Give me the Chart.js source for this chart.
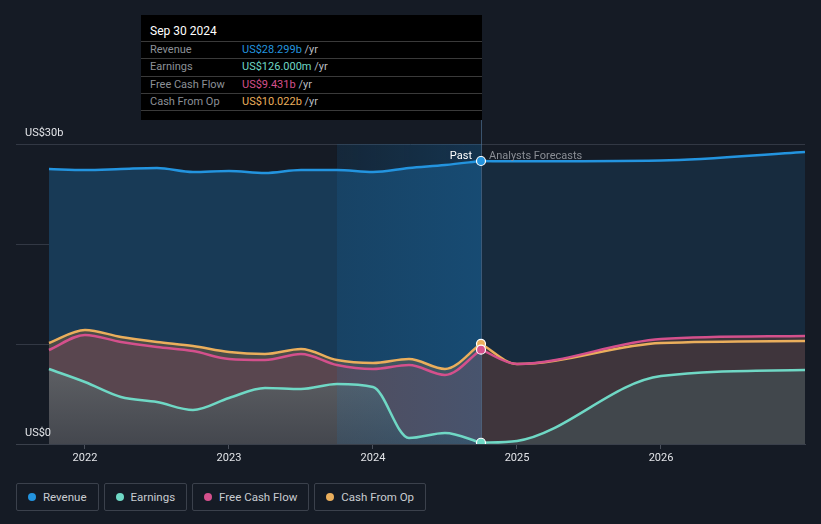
<!DOCTYPE html>
<html>
<head>
<meta charset="utf-8">
<script src="https://cdn.jsdelivr.net/npm/chart.js@4.4.1/dist/chart.umd.min.js"></script>
<style>
body{margin:0;background:#151b25;font-family:Roboto,"Noto Sans",sans-serif;}
#wrap{position:relative;width:821px;height:524px;overflow:hidden;}
#box{position:absolute;left:0;top:0;width:821px;height:470px;}
.tip{position:absolute;left:141px;top:15px;width:341px;height:105px;background:#000;font-size:11px;}
.tip .t{padding:4px 0 0 9px;height:22px;line-height:24px;color:#fff;font-size:12px;}
.tip .r{border-top:1px solid #3a3a3a;height:16.3px;line-height:16.3px;padding-left:9px;color:#8c9097;white-space:nowrap;}
.tip .r:last-child{border-bottom:1px solid #3a3a3a;}
.tip .r span.l{display:inline-block;width:92px;}
.tip .r span.u{color:#b9bcc1;}
.legend{position:absolute;left:16px;top:483px;display:flex;gap:5px;}
.legend div{height:26px;border:1px solid #3b414c;border-radius:2px;color:#c9ccd1;font-size:11.5px;line-height:26px;padding:0 11px 0 26px;position:relative;}
.legend div i{position:absolute;left:11px;top:9px;width:8px;height:8px;border-radius:50%;}
</style>
</head>
<body>
<div id="wrap">
  <div id="box"><canvas id="myChart"></canvas></div>
  <div class="tip">
    <div class="t">Sep 30 2024</div>
    <div class="r"><span class="l">Revenue</span><span style="color:#2394df">US$28.299b</span> <span class="u">/yr</span></div>
    <div class="r"><span class="l">Earnings</span><span style="color:#6fd8c5">US$126.000m</span> <span class="u">/yr</span></div>
    <div class="r"><span class="l">Free Cash Flow</span><span style="color:#d4508c">US$9.431b</span> <span class="u">/yr</span></div>
    <div class="r"><span class="l">Cash From Op</span><span style="color:#eaae5c">US$10.022b</span> <span class="u">/yr</span></div>
  </div>
  <div class="legend">
    <div><i style="background:#2394df"></i>Revenue</div>
    <div><i style="background:#6fd8c5"></i>Earnings</div>
    <div><i style="background:#d4508c"></i>Free Cash Flow</div>
    <div><i style="background:#eaae5c"></i>Cash From Op</div>
  </div>
</div>
<script>
// quarterly history (decimal years) and annual analyst forecasts, US$ billions
const pastDates = [2021.75, 2022.0, 2022.25, 2022.5, 2022.75, 2023.0, 2023.25, 2023.5, 2023.75, 2024.0, 2024.25, 2024.5, 2024.75];
const revenuePast = [27.5, 27.4, 27.5, 27.6, 27.2, 27.3, 27.1, 27.4, 27.4, 27.2, 27.6, 27.9, 28.299];
const earningsPast = [7.5, 6.2, 4.7, 4.2, 3.4, 4.6, 5.6, 5.5, 6.0, 5.7, 0.6, 1.1, 0.126];
const fcfPast = [9.4, 10.9, 10.2, 9.7, 9.3, 8.5, 8.4, 9.0, 7.9, 7.5, 7.9, 6.9, 9.431];
const cfoPast = [10.1, 11.4, 10.7, 10.2, 9.8, 9.2, 9.0, 9.5, 8.4, 8.1, 8.5, 7.5, 10.022];

const foreDates = [2024.75, 2025.0, 2026.0, 2027.0];
const revenueFore = [28.299, 28.27, 28.35, 29.2];
const earningsFore = [0.126, 0.3, 6.8, 7.4];
const fcfFore = [9.431, 8.0, 10.5, 10.8];
const cfoFore = [10.022, 8.0, 10.1, 10.3];

const tickYears = [2022, 2023, 2024, 2025, 2026];
const yTicks = [0, 10, 20, 30];
const yLabels = {0: "US$0", 30: "US$30b"};
const bandStart = 2023.75;
const pastEnd = 2024.75;

const pts = (xs, ys) => xs.map((x, i) => ({x: x, y: ys[i]}));

const earningsFill = (ctx) => {
    const a = ctx.chart.chartArea;
    if (!a) return "#55585d";
    const g = ctx.chart.ctx.createLinearGradient(0, a.top + 210, 0, a.bottom);
    g.addColorStop(0, "#626468");
    g.addColorStop(1, "#44474e");
    return g;
};

const line = (label, data, color, fill, order, marker) => ({
    label: label,
    data: data,
    borderColor: color,
    backgroundColor: fill,
    borderWidth: 2.5,
    fill: "origin",
    order: order,
    cubicInterpolationMode: "monotone",
    pointRadius: (c) => (marker && c.dataIndex === data.length - 1 ? 4.5 : 0),
    pointBackgroundColor: color,
    pointBorderColor: "#ffffff",
    pointBorderWidth: 1.2,
    pointHoverRadius: 0,
});

const overlay = {
    id: "overlay",
    beforeDatasetsDraw(chart) {
        const {ctx, chartArea: a, scales: {x}} = chart;
        const x0 = x.getPixelForValue(bandStart);
        const x1 = x.getPixelForValue(pastEnd);
        const g = ctx.createLinearGradient(x0, 0, x1, 0);
        g.addColorStop(0, "rgba(20,125,200,0.13)");
        g.addColorStop(1, "rgba(20,125,200,0.25)");
        ctx.save();
        ctx.fillStyle = g;
        ctx.fillRect(x0, a.top, x1 - x0, a.bottom - a.top);
        ctx.strokeStyle = "rgba(90,130,170,0.55)";
        ctx.lineWidth = 1;
        ctx.beginPath();
        ctx.moveTo(Math.round(x1) + 0.5, 120);
        ctx.lineTo(Math.round(x1) + 0.5, a.bottom);
        ctx.stroke();
        ctx.restore();
    },
    afterDraw(chart) {
        const {ctx, scales: {x, y}} = chart;
        ctx.save();
        ctx.font = "11px Roboto, sans-serif";
        ctx.textBaseline = "middle";
        ctx.fillStyle = "#e2e4e8";
        ctx.textAlign = "left";
        Object.keys(yLabels).forEach((v) => {
            ctx.fillText(yLabels[v], 25, y.getPixelForValue(+v) - 11);
        });
        const px = x.getPixelForValue(pastEnd);
        const ty = y.getPixelForValue(30) + 12;
        ctx.textAlign = "right";
        ctx.fillStyle = "#ffffff";
        ctx.fillText("Past", px - 9, ty);
        ctx.textAlign = "left";
        ctx.fillStyle = "#8a8e95";
        ctx.fillText("Analysts Forecasts", px + 8, ty);
        ctx.restore();
    },
};

new Chart(document.getElementById("myChart"), {
    type: "line",
    data: {
        datasets: [
            line("Earnings", pts(pastDates, earningsPast), "#6fd8c5", earningsFill, 1, true),
            line("Free Cash Flow", pts(pastDates, fcfPast), "#d4508c", "#59464f", 2, true),
            line("Cash From Op", pts(pastDates, cfoPast), "#eaae5c", "#4a4c48", 3, true),
            line("Revenue", pts(pastDates, revenuePast), "#2394df", "#183a56", 4, true),
            line("Earnings forecast", pts(foreDates, earningsFore), "#6fd8c5", "#41474c", 1, false),
            line("Free Cash Flow forecast", pts(foreDates, fcfFore), "#d4508c", "#3f353c", 2, false),
            line("Cash From Op forecast", pts(foreDates, cfoFore), "#eaae5c", "#3f3a3a", 3, false),
            line("Revenue forecast", pts(foreDates, revenueFore), "#2394df", "#172b3e", 4, false),
        ],
    },
    options: {
        responsive: true,
        maintainAspectRatio: false,
        animation: false,
        layout: {padding: {left: 16, right: 16, top: 144, bottom: 0}},
        plugins: {
            legend: {display: false},
            tooltip: {enabled: false},
            filler: {drawTime: "beforeDatasetsDraw"},
        },
        scales: {
            x: {
                type: "linear",
                min: 2021.521,
                max: 2027.0,
                afterBuildTicks: (s) => { s.ticks = tickYears.map((v) => ({value: v})); },
                afterFit: (s) => { s.height = 26; },
                ticks: {
                    color: "#e2e4e8",
                    font: {family: "Roboto", size: 11},
                    padding: 3,
                    maxRotation: 0,
                    callback: (v) => String(v),
                },
                grid: {drawOnChartArea: false, drawTicks: true, tickLength: 5, color: "#4a505b"},
                border: {display: true, color: "#3a404b"},
            },
            y: {
                min: 0,
                max: 30,
                afterBuildTicks: (s) => { s.ticks = yTicks.map((v) => ({value: v})); },
                afterFit: (s) => { s.width = 0; },
                ticks: {display: false},
                grid: {color: "#323844", drawTicks: false},
                border: {display: false},
            },
        },
    },
    plugins: [overlay],
});
</script>
</body>
</html>
